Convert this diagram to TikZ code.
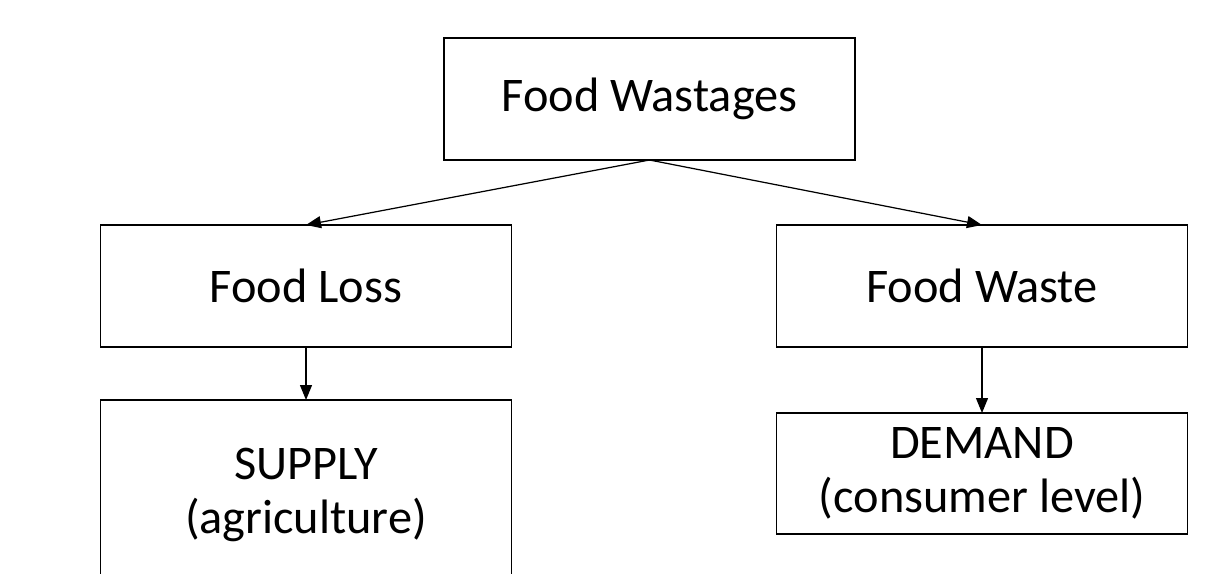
\documentclass[tikz,border=0pt]{standalone}
\usepackage{fontspec}
\setmainfont{Carlito}
\usetikzlibrary{arrows.meta,positioning}
\tikzset{
  >={Triangle[length=3mm,width=2.4mm]},
  box/.style={draw=black,line width=1.1pt,fill=white,outer sep=0pt,
    minimum width=8.22cm,minimum height=#1,align=center,
    font=\fontsize{27.5}{31}\selectfont},
  box/.default=2.44cm,
  flow/.style={->,line width=0.7pt,draw=black},
}
\begin{document}
\begin{tikzpicture}
  \useasboundingbox (0,0) rectangle (24.14,-11.46);
  \clip (0,0) rectangle (24.14,-11.46);
  % boxes
  \node[box] (wastages) at (12.99,-1.98) {Food Wastages};
  \node[box] (loss) at (6.12,-5.72) {Food Loss};
  \node[box] (waste) at (19.64,-5.72) {Food Waste};
  \node[box=3.8cm] (supply) at (6.12,-9.9) {SUPPLY\\(agriculture)};
  \node[box=2.42cm] (demand) at (19.64,-9.47) {DEMAND\\(consumer level)};
  % links
  \draw[flow] (wastages.south) -- (loss.north);
  \draw[flow] (wastages.south) -- (waste.north);
  \draw[flow] (loss) -- (supply);
  \draw[flow] (waste) -- (demand);
\end{tikzpicture}
\end{document}
